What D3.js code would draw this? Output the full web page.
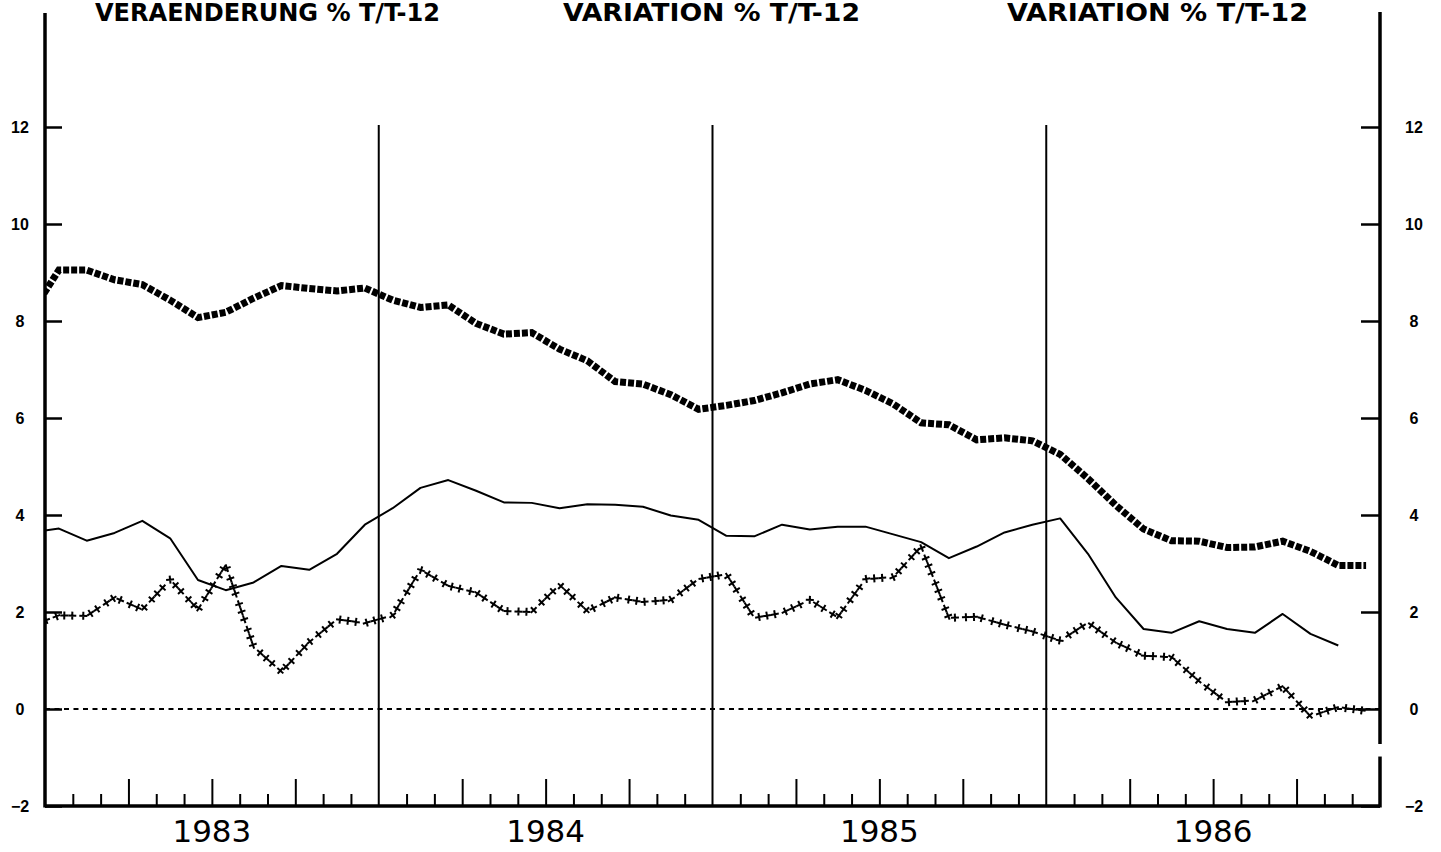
<!DOCTYPE html>
<html>
<head>
<meta charset="utf-8">
<script src="https://cdn.jsdelivr.net/npm/d3@7/dist/d3.min.js"></script>
<style>
  html, body { margin: 0; padding: 0; background: #fff; }
  svg { display: block; }
</style>
</head>
<body>
<div id="chart"></div>
<script>
/* global d3 */

// monthly values, the first one is Dec 1982 (it only shows as the bit cut by the left axis)
const firstMonth = -1;

const thickSeries = [8.15, 9.05, 9.05, 8.85, 8.75, 8.43, 8.07, 8.18, 8.47, 8.73, 8.67, 8.62, 8.68,
  8.43, 8.28, 8.33, 7.95, 7.73, 7.76, 7.42, 7.18, 6.75, 6.70, 6.48, 6.18,
  6.26, 6.36, 6.52, 6.70, 6.79, 6.57, 6.29, 5.90, 5.86, 5.55, 5.59, 5.53,
  5.25, 4.75, 4.20, 3.71, 3.47, 3.46, 3.33, 3.34, 3.46, 3.25, 2.96, 2.96];

const thinSeries = [3.64, 3.72, 3.47, 3.63, 3.88, 3.52, 2.66, 2.45, 2.61, 2.95, 2.87, 3.20, 3.80,
  4.14, 4.56, 4.72, 4.50, 4.26, 4.25, 4.14, 4.22, 4.21, 4.17, 3.99, 3.90,
  3.57, 3.56, 3.80, 3.70, 3.76, 3.76, 3.60, 3.44, 3.11, 3.35, 3.64, 3.80,
  3.93, 3.20, 2.30, 1.65, 1.57, 1.81, 1.65, 1.57, 1.96, 1.55, 1.31];

const crossSeries = [1.72, 1.93, 1.92, 2.30, 2.05, 2.67, 2.05, 2.97, 1.28, 0.77, 1.38, 1.85, 1.77,
  1.93, 2.87, 2.54, 2.40, 2.02, 2.00, 2.56, 2.02, 2.30, 2.21, 2.25, 2.68,
  2.78, 1.88, 1.98, 2.25, 1.89, 2.68, 2.72, 3.35, 1.88, 1.90, 1.74, 1.60,
  1.41, 1.78, 1.37, 1.10, 1.07, 0.57, 0.14, 0.18, 0.47, -0.15, 0.04, -0.04];

const years = ['1983', '1984', '1985', '1986'];
const yTicks = [-2, 0, 2, 4, 6, 8, 10, 12];
const titles = ['VERAENDERUNG % T/T-12', 'VARIATION % T/T-12', 'VARIATION % T/T-12'];

// layout
const width = 1441;
const height = 852;
const left = 45;
const right = 1380;
const bottom = 806;
const titleBox = [[95, 345], [563, 297], [1007, 301]];

const svg = d3.select('#chart').append('svg')
  .attr('width', width)
  .attr('height', height);

const x = d3.scaleLinear().domain([0, years.length * 12]).range([left, right]);
const y = d3.scaleLinear().domain([-2, 12]).range([bottom, 127]);

const toPoints = arr => arr.map((v, i) => ({ m: firstMonth + i + 0.5, v }));

const line = d3.line()
  .x(d => x(d.m))
  .y(d => y(d.v));

svg.append('defs').append('clipPath').attr('id', 'plot')
  .append('rect')
  .attr('x', left)
  .attr('y', 0)
  .attr('width', right - left)
  .attr('height', bottom);

// titles (the scan crops their tops; kept just inside the page here)
svg.selectAll('.title')
  .data(titles)
  .enter()
  .append('text')
  .attr('class', 'title')
  .attr('x', (d, i) => titleBox[i][0])
  .attr('y', 21)
  .attr('textLength', (d, i) => titleBox[i][1])
  .attr('lengthAdjust', 'spacingAndGlyphs')
  .style('font-family', '"DejaVu Sans Condensed", "DejaVu Sans", sans-serif')
  .style('font-weight', 'bold')
  .style('font-size', '24px')
  .text(d => d);

// zero line
svg.append('line')
  .attr('x1', left)
  .attr('x2', right)
  .attr('y1', y(0))
  .attr('y2', y(0))
  .attr('stroke', '#000')
  .attr('stroke-width', 2)
  .attr('stroke-dasharray', '5,4.5');

// year separators
svg.selectAll('.yearline')
  .data([12, 24, 36])
  .enter()
  .append('line')
  .attr('class', 'yearline')
  .attr('x1', d => x(d))
  .attr('x2', d => x(d))
  .attr('y1', y(12) - 2)
  .attr('y2', bottom)
  .attr('stroke', '#000')
  .attr('stroke-width', 2);

// month ticks along the bottom, longer on quarters
const monthTicks = d3.range(1, years.length * 12).filter(m => m % 12 !== 0);
const xAxis = svg.append('g')
  .attr('transform', `translate(0,${bottom})`)
  .call(d3.axisTop(x).tickValues(monthTicks).tickSize(12).tickSizeOuter(0).tickFormat(''));
xAxis.select('.domain').remove();
xAxis.selectAll('.tick line')
  .attr('stroke-width', 2)
  .attr('y2', d => (d % 3 === 0 ? -27 : -12));

// year labels
svg.selectAll('.year')
  .data(years)
  .enter()
  .append('text')
  .attr('class', 'year')
  .attr('x', (d, i) => x(i * 12 + 6))
  .attr('y', 842)
  .attr('text-anchor', 'middle')
  .style('font-family', '"DejaVu Sans", sans-serif')
  .style('font-size', '31px')
  .text(d => d);

// y axes
const leftAxis = svg.append('g')
  .attr('transform', `translate(${left},0)`)
  .call(d3.axisLeft(y).tickValues(yTicks).tickSizeInner(-17).tickSizeOuter(0).tickPadding(17));
const rightAxis = svg.append('g')
  .attr('transform', `translate(${right},0)`)
  .call(d3.axisRight(y).tickValues(yTicks).tickSizeInner(-19).tickSizeOuter(0).tickPadding(24));

[leftAxis, rightAxis].forEach((g) => {
  g.select('.domain').remove();
  g.selectAll('.tick line').attr('stroke-width', 2.5);
  g.selectAll('.tick text')
    .attr('font-size', 16)
    .attr('font-family', '"Liberation Sans", Arial, sans-serif')
    .attr('font-weight', 'bold');
});
leftAxis.selectAll('.tick text').attr('text-anchor', 'middle').attr('x', -25);
rightAxis.selectAll('.tick text').attr('text-anchor', 'middle').attr('x', 34);

// frame
const frame = svg.append('g').attr('stroke', '#000').attr('stroke-width', 3.5);
frame.append('line').attr('x1', left).attr('x2', left).attr('y1', 13).attr('y2', bottom + 1.5);
frame.append('line').attr('x1', left).attr('x2', right).attr('y1', bottom).attr('y2', bottom);
frame.append('line').attr('x1', right).attr('x2', right).attr('y1', 12).attr('y2', y(-0.72));
frame.append('line').attr('x1', right).attr('x2', right).attr('y1', y(-0.98)).attr('y2', bottom + 1.5);

const plot = svg.append('g').attr('clip-path', 'url(#plot)');

// thin solid series
plot.append('path')
  .attr('d', line(toPoints(thinSeries)))
  .attr('fill', 'none')
  .attr('stroke', '#000')
  .attr('stroke-width', 2)
  .attr('stroke-linejoin', 'round');

// thick chequered series
plot.append('path')
  .attr('d', line(toPoints(thickSeries)))
  .attr('fill', 'none')
  .attr('stroke', '#000')
  .attr('stroke-width', 7)
  .attr('stroke-dasharray', '6,2');

// cross series: plus signs in groups of three along the line
const crossLine = plot.append('path')
  .attr('d', line(toPoints(crossSeries)))
  .attr('fill', 'none')
  .attr('stroke', 'none');
const node = crossLine.node();
const total = node.getTotalLength();
const marks = [];
for (let s = 0; s <= total; s += 27) {
  [0, 8, 16].forEach((o) => { if (s + o <= total) marks.push(s + o); });
}
plot.selectAll('.cross')
  .data(marks)
  .enter()
  .append('path')
  .attr('class', 'cross')
  .attr('d', 'M-4,0H4M0,-4V4')
  .attr('stroke', '#000')
  .attr('stroke-width', 2)
  .attr('transform', (l) => {
    const p = node.getPointAtLength(l);
    const a = node.getPointAtLength(Math.max(l - 1, 0));
    const b = node.getPointAtLength(Math.min(l + 1, total));
    const ang = Math.atan2(b.y - a.y, b.x - a.x) * 180 / Math.PI;
    return `translate(${p.x},${p.y}) rotate(${ang})`;
  });
</script>
</body>
</html>
